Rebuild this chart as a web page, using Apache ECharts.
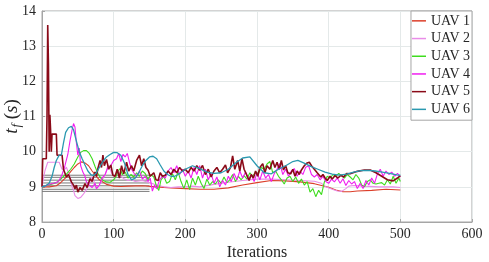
<!DOCTYPE html>
<html>
<head>
<meta charset="utf-8">
<script src="https://cdn.jsdelivr.net/npm/echarts@6/dist/echarts.min.js"></script>
<style>html,body{margin:0;padding:0;background:#fff;}#c{width:489px;height:262px;}</style>
</head>
<body>
<div id="c"></div>
<script>
const seriesNames = ['UAV 1','UAV 2','UAV 3','UAV 4','UAV 5','UAV 6'];
const xTicks = [0,100,200,300,400,500,600];
const yTicks = [8,9,10,11,12,13,14];

const uav1X = [0,10,20,25,30,35,40,45,50,55,60,65,70,75,80,90,100,110,120,140,160,180,200,220,240,260,280,300,320,340,360,380,400,410,420,430,440,460,480,500];
const uav1Y = [9.0,9.0,9.03,9.1,9.2,9.3,9.43,9.55,9.65,9.71,9.68,9.6,9.45,9.32,9.2,9.07,9.02,9.01,9.02,9.03,9.0,8.97,8.95,8.93,8.93,8.97,9.05,9.12,9.18,9.17,9.14,9.09,8.99,8.91,8.86,8.86,8.88,8.9,8.93,8.91];

const uav2X = [0,2,4,8,12,16,20,24,26,28,32,34,36,39,42,44,46,50,54,58,62,64,67,69,72,76,80,84,88,92,95,98,102,106,110,115,120,125,130,140,150,160,170,180,190,200,210,220,240,260,280,300,320,340,360,380,390,396,405,412,418,424,428,435,450,470,490,500];
const uav2Y = [9.0,9.0,9.45,9.7,9.7,9.7,9.7,9.7,9.65,9.5,9.5,9.56,9.45,9.28,9.0,8.9,8.75,8.67,8.7,8.8,8.92,9.0,9.15,9.28,9.2,8.95,9.05,9.2,9.33,9.62,9.5,9.35,9.3,9.45,9.3,9.22,9.18,9.2,9.15,9.18,9.12,9.05,9.0,8.98,9.0,9.0,9.02,9.0,9.07,9.13,9.18,9.22,9.22,9.2,9.18,9.16,9.1,9.0,8.93,8.88,8.87,8.95,9.02,9.04,9.02,9.0,9.0,8.98];

const uav3X = [0,10,20,25,30,35,40,45,50,54,58,62,66,70,74,78,82,86,90,95,100,103,106,109,112,116,120,124,128,132,136,140,144,148,152,156,160,163,166,170,174,178,182,186,190,194,198,202,206,210,214,218,222,226,230,234,238,242,246,250,254,258,262,266,270,274,278,282,286,290,294,298,302,306,310,314,318,322,326,330,334,338,342,346,350,354,358,362,366,370,374,378,382,386,390,394,398,402,406,410,414,418,422,426,430,434,438,442,446,450,454,458,462,466,470,474,478,482,486,490,494,498,500];
const uav3Y = [9.0,9.05,9.12,9.2,9.3,9.38,9.5,9.65,9.85,9.98,10.03,10.03,9.95,9.8,9.58,9.38,9.25,9.17,9.14,9.13,9.2,9.28,9.45,9.52,9.35,9.42,9.25,9.35,9.28,9.4,9.3,9.45,9.38,9.2,9.35,9.28,9.0,8.9,9.2,9.3,9.1,9.15,9.37,9.2,9.42,9.15,8.95,9.2,8.92,9.25,9.05,9.3,9.1,8.95,9.22,9.05,9.15,9.08,9.2,9.1,9.28,9.12,9.2,9.35,9.15,9.3,9.2,9.32,9.22,9.4,9.3,9.42,9.38,9.55,9.5,9.65,9.72,9.4,9.45,9.3,9.2,9.08,9.25,9.3,9.15,9.28,9.1,9.22,9.05,9.15,8.85,8.95,8.72,8.9,8.78,9.14,9.3,9.25,9.35,9.3,9.38,9.32,9.25,9.35,9.28,9.2,9.35,9.25,9.05,9.0,9.15,9.2,9.1,9.08,9.1,9.12,9.05,9.2,9.08,9.3,9.1,9.25,9.15];

const uav4X = [0,4,8,12,16,20,24,28,32,36,39,42,44,46,48,50,52,54,57,60,62,66,70,74,76,80,84,88,92,96,100,104,107,110,113,116,119,122,125,128,132,136,140,144,148,151,154,157,160,164,168,172,176,180,184,188,192,196,200,204,208,212,216,220,224,228,232,236,240,244,248,252,256,260,264,268,272,276,280,284,288,292,296,300,304,308,312,316,320,324,328,332,336,340,344,348,352,356,360,364,368,372,376,380,384,388,392,396,400,404,408,412,416,420,424,428,432,436,440,444,448,452,456,460,464,468,472,476,480,484,488,492,496,500];
const uav4Y = [9.0,9.02,9.05,9.08,9.1,9.12,9.18,9.35,9.6,9.92,10.3,10.62,10.8,10.7,10.25,9.9,10.1,9.6,9.42,9.3,9.14,9.05,8.98,9.1,8.95,9.05,9.25,9.35,9.55,9.6,9.75,9.8,9.95,9.72,9.92,9.85,9.95,9.7,9.5,9.4,9.3,9.45,9.22,9.3,9.15,9.25,8.88,9.05,8.95,9.2,9.3,9.25,9.45,9.55,9.4,9.6,9.35,9.5,9.3,9.45,9.25,9.55,9.35,9.6,9.25,9.5,9.2,9.38,9.1,9.28,9.0,9.18,9.05,9.3,9.15,9.38,9.2,9.45,9.25,9.42,9.2,9.35,9.15,9.4,9.2,9.45,9.25,9.35,9.15,9.37,9.5,9.66,9.35,9.5,9.3,9.45,9.52,9.3,9.45,9.35,9.56,9.6,9.35,9.28,9.35,9.2,9.3,9.15,9.1,9.22,9.14,9.25,9.1,9.23,9.04,9.18,9.08,9.15,8.95,9.1,8.95,9.18,9.05,9.25,9.1,9.37,9.5,9.3,9.45,9.35,9.42,9.3,9.38,9.28];

const uav5X = [0,1,6,7,8,9,10,11,12,13,14,20,21,28,30,32,34,37,41,44,46,48,50,53,56,60,63,67,70,74,76,78,81,83,85,87,90,93,96,99,102,105,108,111,114,118,121,125,128,132,136,139,142,145,148,151,153,156,159,162,165,168,172,176,180,184,188,192,196,200,204,208,212,216,220,224,228,232,236,240,244,248,252,256,259,263,266,269,273,276,279,282,285,289,292,295,298,301,304,308,311,314,318,322,325,328,331,334,337,340,343,347,350,353,356,359,362,366,370,373,376,380,384,389,392,395,398,402,405,409,413,417,421,425,430,440,450,458,466,474,482,490,496,500];
const uav5Y = [9.0,9.8,9.8,11.0,13.6,12.5,10.0,11.05,10.6,10.0,10.5,10.5,9.9,9.9,9.5,9.52,9.28,9.35,9.14,9.05,8.95,9.05,8.85,8.98,8.9,9.09,8.98,9.23,9.15,9.42,9.3,9.52,9.75,9.55,9.9,9.6,9.78,9.5,9.62,9.33,9.3,9.5,9.25,9.6,9.37,9.7,9.45,9.6,9.45,9.75,9.9,9.6,9.8,9.55,9.47,9.3,9.28,9.4,9.2,9.18,9.4,9.3,9.33,9.45,9.35,9.5,9.4,9.55,9.45,9.5,9.4,9.55,9.45,9.6,9.47,9.61,9.35,9.5,9.28,9.45,9.55,9.4,9.5,9.62,9.4,9.55,9.88,9.5,9.75,9.45,9.8,9.5,9.37,9.18,9.35,9.25,9.45,9.3,9.55,9.66,9.4,9.6,9.5,9.75,9.55,9.7,9.5,9.75,9.48,9.6,9.4,9.37,9.5,9.3,9.45,9.35,9.48,9.6,9.68,9.7,9.6,9.5,9.4,9.28,9.35,9.25,9.18,9.3,9.22,9.32,9.25,9.33,9.28,9.38,9.37,9.44,9.48,9.48,9.4,9.3,9.2,9.17,9.25,9.32];

const uav6X = [0,5,10,14,17,20,24,27,30,33,37,41,44,48,52,56,60,64,68,72,76,80,85,90,95,100,105,110,115,120,125,130,135,140,145,150,155,160,165,170,175,180,185,190,200,210,220,230,240,250,260,270,280,290,300,310,320,330,340,350,357,365,375,385,395,405,415,425,435,445,455,465,475,485,495,500];
const uav6Y = [9.0,9.03,9.1,9.3,9.55,9.75,9.9,9.9,10.25,10.55,10.68,10.72,10.62,10.3,10.0,9.8,9.62,9.45,9.35,9.32,9.4,9.55,9.72,9.85,9.92,9.98,9.97,9.9,9.68,9.35,9.2,9.25,9.4,9.6,9.75,9.85,9.87,9.8,9.62,9.45,9.35,9.3,9.3,9.35,9.5,9.6,9.52,9.42,9.38,9.4,9.5,9.68,9.82,9.85,9.6,9.4,9.37,9.5,9.6,9.72,9.75,9.68,9.58,9.5,9.42,9.36,9.33,9.36,9.42,9.46,9.47,9.45,9.42,9.38,9.34,9.33];

const refLevels = [9.33,9.27,9.19,9.11,9.03,8.93,8.87];
const refSpan = [0,150];

const colors = ['#DC3F2A','#E98CE8','#3EDC1E','#F01EF0','#8A0A18','#2A99B0'];
const widths = [1.1,1.1,1.1,1.1,1.6,1.3];
const xs = [uav1X,uav2X,uav3X,uav4X,uav5X,uav6X];
const ys = [uav1Y,uav2Y,uav3Y,uav4Y,uav5Y,uav6Y];

const font = 'Liberation Serif';
const series = [];
refLevels.forEach(function(v){
  series.push({type:'line', data:[[refSpan[0],v],[refSpan[1],v]], symbol:'none', silent:true,
    lineStyle:{color:'#7a7a7a', width:1}, z:1});
});
seriesNames.forEach(function(n,i){
  series.push({name:n, type:'line', symbol:'none', data: xs[i].map(function(x,k){return [x, ys[i][k]];}),
    lineStyle:{color:colors[i], width:widths[i]}, itemStyle:{color:colors[i]}, z:2+i});
});

const chart = echarts.init(document.getElementById('c'), null, {renderer:'canvas'});
chart.setOption({
  animation:false,
  backgroundColor:'#ffffff',
  grid:{left:42, top:11, right:17, bottom:40, containLabel:false, outerBoundsMode:'none',
    show:true, borderColor:'#a6a6a6', borderWidth:1, backgroundColor:'transparent'},
  legend:{
    data:seriesNames, orient:'vertical', right:17, top:11,
    backgroundColor:'#ffffff', borderColor:'#a6a6a6', borderWidth:1,
    padding:[1,2,2,1], itemGap:0, itemWidth:14, itemHeight:1.5, icon:'rect',
    textStyle:{fontFamily:font, fontSize:14, color:'#262626', lineHeight:17.7}
  },
  xAxis:{type:'value', min:0, max:600, interval:100,
    name:'Iterations', nameLocation:'middle', nameGap:23, nameMoveOverlap:false,
    nameTextStyle:{fontFamily:font, fontSize:16, color:'#262626'},
    axisLine:{show:true, lineStyle:{color:'#a6a6a6'}},
    axisTick:{show:true, inside:true, length:3, lineStyle:{color:'#a6a6a6'}},
    axisLabel:{fontFamily:font, fontSize:14, color:'#262626', margin:5},
    splitLine:{show:true, lineStyle:{color:'#e4e9e9', width:1}}
  },
  yAxis:{type:'value', min:8, max:14, interval:1,
    name:'{i|t}{s|f}{n| (}{i|s}{n|)}', nameLocation:'middle', nameGap:19, nameRotate:90, nameMoveOverlap:false,
    nameTextStyle:{fontFamily:font, fontSize:19, color:'#262626',
      rich:{
        i:{fontFamily:font, fontSize:19, fontStyle:'italic', color:'#262626'},
        n:{fontFamily:font, fontSize:19, color:'#262626'},
        s:{fontFamily:font, fontSize:13, fontStyle:'italic', color:'#262626', padding:[9,0,0,1]}
      }},
    axisLine:{show:true, lineStyle:{color:'#a6a6a6'}},
    axisTick:{show:true, inside:true, length:3, lineStyle:{color:'#a6a6a6'}},
    axisLabel:{fontFamily:font, fontSize:14, color:'#262626', margin:6},
    splitLine:{show:true, lineStyle:{color:'#e4e9e9', width:1}}
  },
  series:series
});
</script>
</body>
</html>
